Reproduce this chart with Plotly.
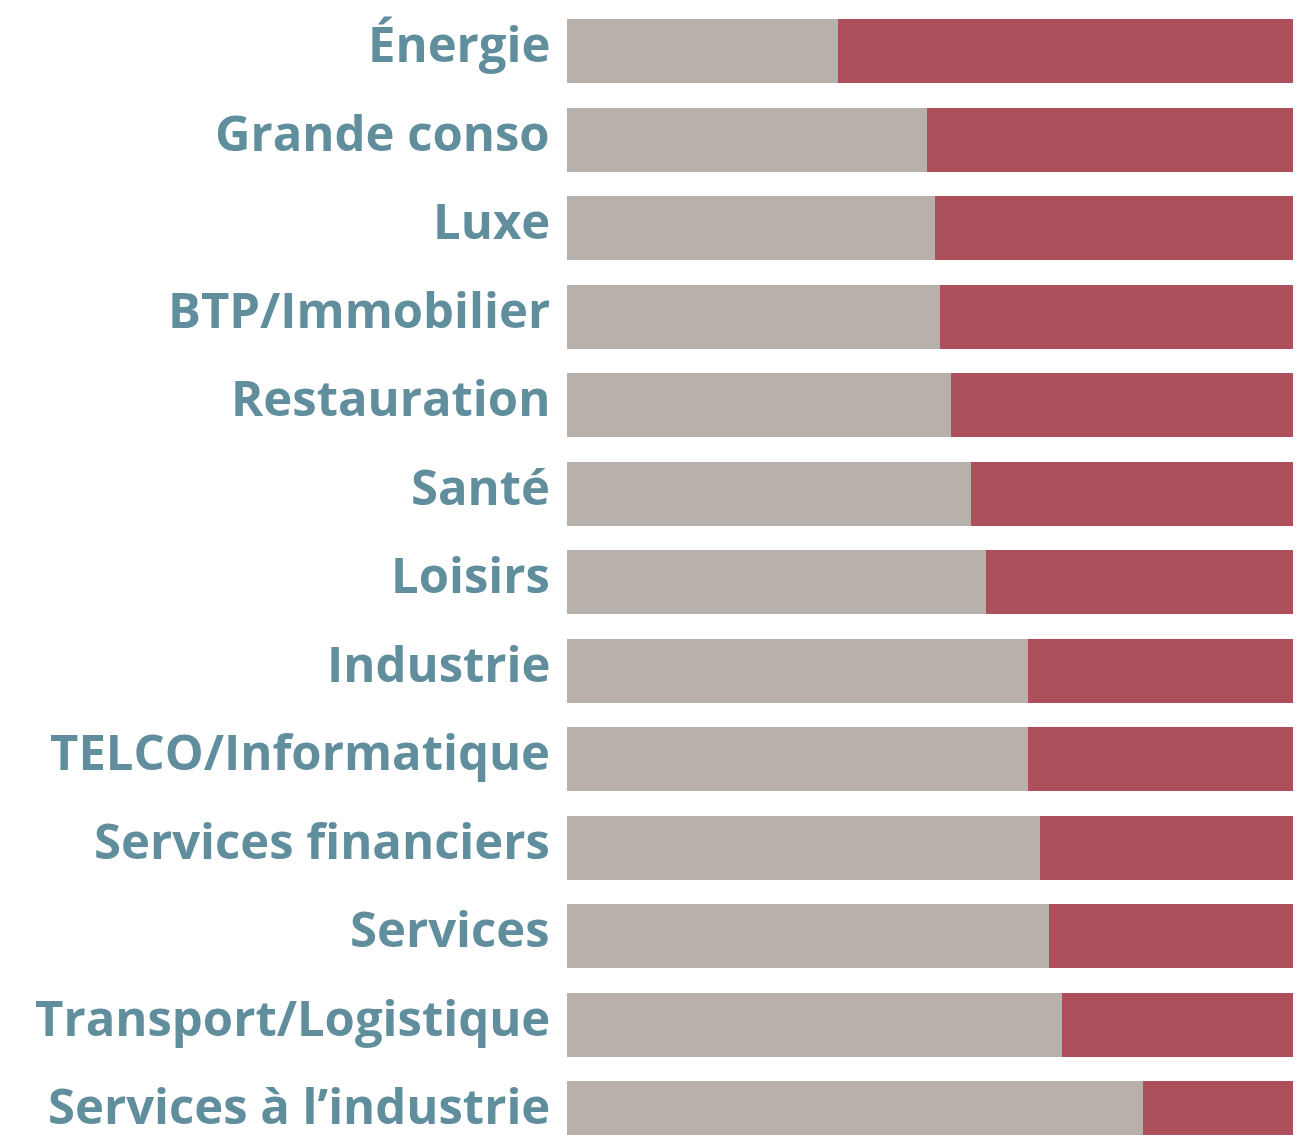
import plotly.graph_objects as go

categories = ["Énergie", "Grande conso", "Luxe", "BTP/Immobilier", "Restauration", "Santé",
              "Loisirs", "Industrie", "TELCO/Informatique", "Services financiers", "Services",
              "Transport/Logistique", "Services à l’industrie"]
gray_values = [36.9, 49.0, 50.1, 50.8, 52.3, 55.0, 57.1, 62.8, 62.8, 64.4, 65.7, 67.4, 78.5]
red_values = [round(100 - v, 1) for v in gray_values]

fig = go.Figure()
fig.add_trace(go.Bar(y=categories, x=gray_values, orientation="h", marker_color="#b8b0ab",
                     marker_line_width=0, showlegend=False))
fig.add_trace(go.Bar(y=categories, x=red_values, orientation="h", marker_color="#ae505b",
                     marker_line_width=0, showlegend=False))

for cat in categories:
    fig.add_annotation(x=0, xref="paper", y=cat, yref="y", text=cat, showarrow=False,
                       xanchor="right", yanchor="middle", xshift=-15, yshift=8,
                       font=dict(family="Open Sans", size=49, color="#608e9c", weight="bold"))

fig.update_layout(
    template="none",
    barmode="stack", bargap=0.277,
    width=1293, height=1127,
    margin=dict(l=559, r=0, t=0, b=0, pad=0, autoexpand=False),
    plot_bgcolor="white", paper_bgcolor="white",
    xaxis=dict(range=[0, 100], visible=False, fixedrange=True, automargin=False),
    yaxis=dict(categoryorder="array", categoryarray=categories, automargin=False,
               range=[12.248, -0.486], showgrid=False, zeroline=False, showline=False,
               ticks="", showticklabels=False),
)
fig.write_html("out.html")
